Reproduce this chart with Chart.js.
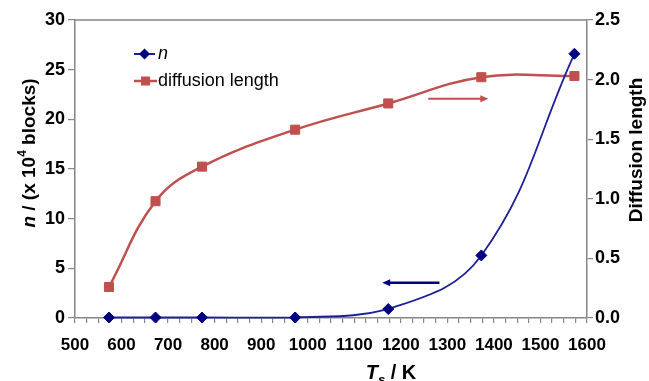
<!DOCTYPE html>
<html>
<head>
<meta charset="utf-8">
<script src="https://cdn.jsdelivr.net/npm/chart.js@4.4.1/dist/chart.umd.min.js"></script>
<style>
  body { margin: 0; background: #fff; }
</style>
</head>
<body>
<canvas id="grafico" width="649" height="381"></canvas>
<script>
// datos
const temperaturas = [573, 673, 773, 973, 1173, 1373, 1573];
const bloques = [0.05, 0.05, 0.05, 0.05, 0.9, 6.3, 26.6];
const longitudDifusion = [0.26, 0.98, 1.27, 1.58, 1.80, 2.02, 2.03];
const ticksX = [500, 600, 700, 800, 900, 1000, 1100, 1200, 1300, 1400, 1500, 1600];
const ticksY = [0, 5, 10, 15, 20, 25, 30];
const ticksY1 = [0, 0.5, 1.0, 1.5, 2.0, 2.5];

// flechas (en unidades de datos)
const flechaDifusion = { desde: 1259, hasta: 1388, valor: 1.84 };
const flechaN = { desde: 1283, hasta: 1160, valor: 3.55 };

const AZUL = '#000080';
const AZUL_LINEA = '#1E1E96';
const ROJO = '#C0504D';
const GRIS = '#868686';
const FUENTE = "'Liberation Sans', Arial, sans-serif";

function dibujarFlecha(ctx, x1, x2, y, color, grosor) {
    const dir = x2 > x1 ? 1 : -1;
    ctx.strokeStyle = color;
    ctx.fillStyle = color;
    ctx.lineWidth = grosor;
    ctx.beginPath();
    ctx.moveTo(x1, y);
    ctx.lineTo(x2 - dir * 5, y);
    ctx.stroke();
    ctx.beginPath();
    ctx.moveTo(x2, y);
    ctx.lineTo(x2 - dir * 8, y - 3.5);
    ctx.lineTo(x2 - dir * 8, y + 3.5);
    ctx.closePath();
    ctx.fill();
}

// texto con partes de distinto estilo (cursiva, superindice...)
function textoPartes(ctx, partes, x, y) {
    let total = 0;
    for (const p of partes) {
        ctx.font = p.f;
        total += ctx.measureText(p.t).width;
    }
    let cx = x - total / 2;
    for (const p of partes) {
        ctx.font = p.f;
        ctx.fillText(p.t, cx, y + (p.dy || 0));
        cx += ctx.measureText(p.t).width;
    }
}

const extras = {
    id: 'extras',
    afterDraw(chart) {
        const ctx = chart.ctx;
        const area = chart.chartArea;
        const sx = chart.scales.x;
        const sy = chart.scales.y;
        const sy1 = chart.scales.y1;
        ctx.save();

        // borde superior
        ctx.strokeStyle = GRIS;
        ctx.lineWidth = 1.5;
        ctx.beginPath();
        ctx.moveTo(area.left, area.top);
        ctx.lineTo(area.right, area.top);
        ctx.stroke();

        dibujarFlecha(ctx, sx.getPixelForValue(flechaDifusion.desde), sx.getPixelForValue(flechaDifusion.hasta),
            sy1.getPixelForValue(flechaDifusion.valor), ROJO, 2);
        dibujarFlecha(ctx, sx.getPixelForValue(flechaN.desde), sx.getPixelForValue(flechaN.hasta),
            sy.getPixelForValue(flechaN.valor), AZUL, 2.5);

        // leyenda
        const lx = area.left + 59;
        const ly1 = area.top + 34;
        const ly2 = area.top + 61;
        ctx.lineWidth = 2;
        ctx.strokeStyle = AZUL_LINEA;
        ctx.beginPath(); ctx.moveTo(lx, ly1); ctx.lineTo(lx + 21, ly1); ctx.stroke();
        ctx.fillStyle = AZUL;
        ctx.beginPath();
        ctx.moveTo(lx + 10.5, ly1 - 5.5);
        ctx.lineTo(lx + 16, ly1);
        ctx.lineTo(lx + 10.5, ly1 + 5.5);
        ctx.lineTo(lx + 5, ly1);
        ctx.closePath();
        ctx.fill();
        ctx.lineWidth = 2.5;
        ctx.strokeStyle = ROJO;
        ctx.beginPath(); ctx.moveTo(lx, ly2); ctx.lineTo(lx + 23, ly2); ctx.stroke();
        ctx.fillStyle = ROJO;
        ctx.fillRect(lx + 7, ly2 - 4.5, 9, 9);

        ctx.fillStyle = '#000';
        ctx.textBaseline = 'middle';
        ctx.textAlign = 'left';
        ctx.font = 'italic 18px ' + FUENTE;
        ctx.fillText('n', lx + 24, ly1);
        ctx.font = '18px ' + FUENTE;
        ctx.fillText('diffusion length', lx + 24, ly2);

        // titulos de ejes
        ctx.save();
        ctx.translate(30, 153);
        ctx.rotate(-Math.PI / 2);
        textoPartes(ctx, [
            { t: 'n', f: 'italic bold 19px ' + FUENTE },
            { t: ' / (x 10', f: 'bold 19px ' + FUENTE },
            { t: '4', f: 'bold 12px ' + FUENTE, dy: -7 },
            { t: ' blocks)', f: 'bold 19px ' + FUENTE }
        ], 0, 0);
        ctx.restore();

        ctx.save();
        ctx.translate(637, 150);
        ctx.rotate(-Math.PI / 2);
        textoPartes(ctx, [{ t: 'Diffusion length', f: 'bold 19px ' + FUENTE }], 0, 0);
        ctx.restore();

        ctx.textBaseline = 'alphabetic';
        textoPartes(ctx, [
            { t: 'T', f: 'italic bold 20px ' + FUENTE },
            { t: 's', f: 'italic bold 13px ' + FUENTE, dy: 5 },
            { t: ' / K', f: 'bold 20px ' + FUENTE }
        ], 391, 379);

        ctx.restore();
    }
};

const fuenteTicks = { family: FUENTE, size: 17, weight: 'bold' };

new Chart(document.getElementById('grafico'), {
    type: 'line',
    data: {
        datasets: [{
            label: 'n',
            data: temperaturas.map((t, i) => ({ x: t, y: bloques[i] })),
            yAxisID: 'y',
            borderColor: AZUL_LINEA,
            borderWidth: 1.8,
            pointStyle: 'rectRot',
            pointRadius: 5.5,
            pointBackgroundColor: AZUL,
            pointBorderColor: AZUL,
            pointBorderWidth: 1,
            tension: 0.4,
            clip: false
        }, {
            label: 'diffusion length',
            data: temperaturas.map((t, i) => ({ x: t, y: longitudDifusion[i] })),
            yAxisID: 'y1',
            borderColor: ROJO,
            borderWidth: 2.5,
            pointStyle: 'rect',
            pointRadius: 6.4,
            pointBackgroundColor: ROJO,
            pointBorderColor: ROJO,
            pointBorderWidth: 1,
            tension: 0.4,
            clip: false
        }]
    },
    options: {
        responsive: false,
        animation: false,
        devicePixelRatio: 1,
        layout: { padding: { top: 20, left: 0, right: 0, bottom: 0 } },
        plugins: { legend: { display: false }, tooltip: { enabled: false } },
        scales: {
            x: {
                type: 'linear',
                min: ticksX[0],
                max: ticksX[ticksX.length - 1],
                afterFit: (s) => { s.height = 63; },
                ticks: {
                    stepSize: 25,
                    autoSkip: false,
                    maxRotation: 0,
                    padding: 12,
                    color: '#000',
                    font: fuenteTicks,
                    callback: (v) => ticksX.includes(v) ? v : ''
                },
                grid: { drawOnChartArea: false, tickLength: 5, tickColor: GRIS, lineWidth: 1.2 },
                border: { color: GRIS, width: 1.5 }
            },
            y: {
                position: 'left',
                min: ticksY[0],
                max: ticksY[ticksY.length - 1],
                afterFit: (s) => { s.width = 75; },
                ticks: { stepSize: 5, padding: 3, color: '#000', font: { family: FUENTE, size: 18, weight: 'bold' } },
                grid: { drawOnChartArea: false, tickLength: 7, tickColor: GRIS, lineWidth: 1.2 },
                border: { color: GRIS, width: 1.5 }
            },
            y1: {
                position: 'right',
                min: ticksY1[0],
                max: ticksY1[ticksY1.length - 1],
                afterFit: (s) => { s.width = 62; },
                ticks: {
                    stepSize: 0.5,
                    padding: 2,
                    color: '#000',
                    font: { family: FUENTE, size: 18, weight: 'bold' },
                    callback: (v) => v.toFixed(1)
                },
                grid: { drawOnChartArea: false, tickLength: 6, tickColor: GRIS, lineWidth: 1.2 },
                border: { color: GRIS, width: 1.5 }
            }
        }
    },
    plugins: [extras]
});
</script>
</body>
</html>
